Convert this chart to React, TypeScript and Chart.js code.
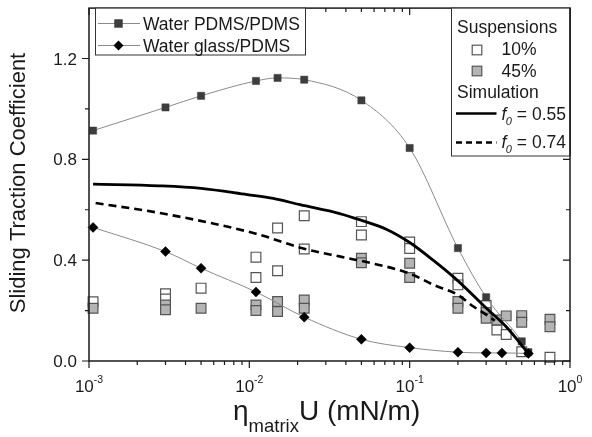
import React, { useEffect, useRef } from "react";
import { Chart, registerables } from "chart.js";

Chart.register(...registerables);

const FONT = '"Liberation Sans", Arial, sans-serif';
const INK = "#1a1a1a";

// Water PDMS/PDMS (dark squares joined by a thin curve)
const pdmsX = [0.00106, 0.003, 0.005, 0.011, 0.015, 0.022, 0.05, 0.1, 0.2, 0.3, 0.5, 0.55];
const pdmsY = [0.914, 1.006, 1.052, 1.111, 1.123, 1.116, 1.034, 0.845, 0.448, 0.253, 0.078, 0.035];

// Water glass/PDMS (black diamonds joined by a thin curve)
const glassX = [0.00106, 0.003, 0.005, 0.011, 0.022, 0.05, 0.1, 0.2, 0.3, 0.376, 0.55];
const glassY = [0.53, 0.434, 0.368, 0.274, 0.174, 0.086, 0.053, 0.035, 0.032, 0.032, 0.03];

// Suspensions, 10 %
const susp10X = [0.00106, 0.003, 0.003, 0.005, 0.011, 0.011, 0.015, 0.015, 0.022, 0.022, 0.05, 0.05, 0.1, 0.1, 0.2, 0.2, 0.3, 0.35, 0.4, 0.5, 0.75];
const susp10Y = [0.235, 0.267, 0.246, 0.289, 0.412, 0.331, 0.528, 0.358, 0.576, 0.444, 0.553, 0.5, 0.472, 0.446, 0.328, 0.302, 0.22, 0.123, 0.105, 0.037, 0.015];

// Suspensions, 45 %
const susp45X = [0.00106, 0.003, 0.003, 0.005, 0.011, 0.011, 0.015, 0.015, 0.022, 0.022, 0.05, 0.05, 0.1, 0.1, 0.2, 0.2, 0.3, 0.3, 0.35, 0.4, 0.5, 0.5, 0.75, 0.75];
const susp45Y = [0.209, 0.222, 0.203, 0.209, 0.222, 0.2, 0.236, 0.196, 0.242, 0.209, 0.408, 0.39, 0.388, 0.331, 0.236, 0.209, 0.192, 0.17, 0.163, 0.179, 0.18, 0.154, 0.166, 0.136];

// Simulation, f0 = 0.55 (solid)
const simAX = [0.00106, 0.00275, 0.005, 0.0097, 0.0141, 0.0207, 0.0366, 0.05, 0.072, 0.1, 0.14, 0.2, 0.3, 0.4, 0.55];
const simAY = [0.702, 0.695, 0.685, 0.66, 0.645, 0.62, 0.585, 0.558, 0.522, 0.47, 0.4, 0.318, 0.21, 0.136, 0.03];

// Simulation, f0 = 0.74 (dashed)
const simBX = [0.0011, 0.003, 0.011, 0.022, 0.037, 0.05, 0.1, 0.141, 0.2, 0.25, 0.29, 0.34];
const simBY = [0.627, 0.583, 0.505, 0.445, 0.414, 0.397, 0.347, 0.302, 0.262, 0.216, 0.19, 0.16];

// Axis ranges and labels
const xMin = 0.001;
const xMax = 1;
const xDecades = [-3, -2, -1, 0];
const yMin = 0;
const yMax = 1.4;
const yMajor = [0, 0.4, 0.8, 1.2];
const yMinor = [0.2, 0.6, 1.0];
const yTitle = "Sliding Traction Coefficient";

const pts = (xs: number[], ys: number[]) => xs.map((x, i) => ({ x, y: ys[i] }));

function drawSquare(ctx: CanvasRenderingContext2D, cx: number, cy: number, side: number, fill: string, stroke: string) {
  ctx.fillStyle = fill;
  ctx.strokeStyle = stroke;
  ctx.lineWidth = 1.2;
  ctx.fillRect(cx - side / 2, cy - side / 2, side, side);
  ctx.strokeRect(cx - side / 2, cy - side / 2, side, side);
}

function drawDiamond(ctx: CanvasRenderingContext2D, cx: number, cy: number, r: number) {
  ctx.fillStyle = "#000";
  ctx.beginPath();
  ctx.moveTo(cx - r, cy);
  ctx.lineTo(cx, cy - r);
  ctx.lineTo(cx + r, cy);
  ctx.lineTo(cx, cy + r);
  ctx.closePath();
  ctx.fill();
}

const frameAndText = {
  id: "frameAndText",
  afterDraw(chart: any) {
    const { ctx, chartArea: a } = chart;
    const xs = chart.scales.x;
    const ys = chart.scales.y;
    ctx.save();

    // plot frame
    ctx.strokeStyle = INK;
    ctx.lineWidth = 1.5;
    ctx.strokeRect(a.left, a.top, a.right - a.left, a.bottom - a.top);

    // x ticks: outward at the bottom, inward at the top
    ctx.lineWidth = 1.2;
    ctx.beginPath();
    xDecades.forEach((d) => {
      const major = Math.pow(10, d);
      const px = xs.getPixelForValue(major);
      ctx.moveTo(px, a.bottom);
      ctx.lineTo(px, a.bottom + 7);
      ctx.moveTo(px, a.top);
      ctx.lineTo(px, a.top + 7);
      if (d < 0) {
        for (let k = 2; k <= 9; k++) {
          const mx = xs.getPixelForValue(k * major);
          ctx.moveTo(mx, a.bottom);
          ctx.lineTo(mx, a.bottom + 4);
          ctx.moveTo(mx, a.top);
          ctx.lineTo(mx, a.top + 4);
        }
      }
    });
    // y ticks: outward on the left, inward on the right
    yMajor.forEach((v) => {
      const py = ys.getPixelForValue(v);
      ctx.moveTo(a.left - 7, py);
      ctx.lineTo(a.left, py);
      ctx.moveTo(a.right - 7, py);
      ctx.lineTo(a.right, py);
    });
    yMinor.forEach((v) => {
      const py = ys.getPixelForValue(v);
      ctx.moveTo(a.left - 4, py);
      ctx.lineTo(a.left, py);
      ctx.moveTo(a.right - 4, py);
      ctx.lineTo(a.right, py);
    });
    ctx.stroke();

    ctx.fillStyle = INK;
    // y tick labels
    ctx.font = `17px ${FONT}`;
    ctx.textAlign = "right";
    ctx.textBaseline = "alphabetic";
    yMajor.forEach((v) => {
      const py = ys.getPixelForValue(v);
      ctx.fillText(v.toFixed(1), a.left - 12, py + 6);
    });

    // x tick labels with superscript exponents
    ctx.textAlign = "left";
    xDecades.forEach((d) => {
      const px = xs.getPixelForValue(Math.pow(10, d));
      const base = "10";
      const exp = String(d);
      ctx.font = `17px ${FONT}`;
      const wb = ctx.measureText(base).width;
      ctx.font = `10.5px ${FONT}`;
      const we = ctx.measureText(exp).width;
      const x0 = px - (wb + we) / 2;
      ctx.font = `17px ${FONT}`;
      ctx.fillText(base, x0, a.bottom + 31);
      ctx.font = `10.5px ${FONT}`;
      ctx.fillText(exp, x0 + wb, a.bottom + 21.5);
    });

    // x axis title: eta_matrix U (mN/m)
    let tx = 233;
    const tb = 420;
    ctx.font = `28px ${FONT}`;
    ctx.fillText("\u03b7", tx, tb);
    tx += ctx.measureText("\u03b7").width;
    ctx.font = `18.5px ${FONT}`;
    ctx.fillText("matrix", tx, tb + 12);
    tx += ctx.measureText("matrix").width;
    ctx.font = `28px ${FONT}`;
    ctx.fillText("U (mN/m)", tx, tb);

    // y axis title
    ctx.save();
    ctx.translate(19, 183);
    ctx.rotate(-Math.PI / 2);
    ctx.font = `22px ${FONT}`;
    ctx.textAlign = "center";
    ctx.textBaseline = "middle";
    ctx.fillText(yTitle, 0, 0);
    ctx.restore();

    // left legend
    ctx.fillStyle = "#fff";
    ctx.fillRect(95, a.top, 210, 55 - a.top);
    ctx.strokeStyle = "#333";
    ctx.lineWidth = 1;
    ctx.strokeRect(95.5, a.top, 210, 55 - a.top);
    ctx.strokeStyle = "#8a8a8a";
    ctx.beginPath();
    ctx.moveTo(98, 23.5);
    ctx.lineTo(140, 23.5);
    ctx.moveTo(98, 45.5);
    ctx.lineTo(140, 45.5);
    ctx.stroke();
    drawSquare(ctx, 118.5, 23.5, 7.2, "#3d3d3d", "#3d3d3d");
    drawDiamond(ctx, 118.5, 45.5, 5);
    ctx.fillStyle = INK;
    ctx.font = `17.5px ${FONT}`;
    ctx.textAlign = "left";
    ctx.fillText("Water PDMS/PDMS", 143, 29.6);
    ctx.fillText("Water glass/PDMS", 143, 51.8);

    // right legend
    const lx = 451;
    ctx.fillStyle = "#fff";
    ctx.fillRect(lx, a.top, a.right - lx, 156 - a.top);
    ctx.strokeStyle = "#333";
    ctx.lineWidth = 1;
    ctx.strokeRect(lx + 0.5, a.top, a.right - lx - 0.5, 156 - a.top);
    ctx.strokeStyle = INK;
    ctx.lineWidth = 1.5;
    ctx.beginPath();
    ctx.moveTo(a.right, a.top);
    ctx.lineTo(a.right, 156);
    ctx.stroke();

    ctx.fillStyle = INK;
    ctx.font = `17.5px ${FONT}`;
    ctx.fillText("Suspensions", 457, 33.3);
    drawSquare(ctx, 477, 50, 9.6, "#ffffff", "#555");
    drawSquare(ctx, 477, 71, 9.6, "#b4b4b4", "#555");
    ctx.fillStyle = INK;
    ctx.fillText("10%", 501.5, 55.2);
    ctx.fillText("45%", 501.5, 76.7);
    ctx.fillText("Simulation", 457, 98.3);

    ctx.strokeStyle = "#000";
    ctx.lineWidth = 2.5;
    ctx.beginPath();
    ctx.moveTo(456, 113.5);
    ctx.lineTo(496.5, 113.5);
    ctx.stroke();
    ctx.setLineDash([6, 4]);
    ctx.beginPath();
    ctx.moveTo(456, 142.5);
    ctx.lineTo(496.5, 142.5);
    ctx.stroke();
    ctx.setLineDash([]);

    const fLabel = (value: string, baseY: number) => {
      let x = 501.5;
      ctx.fillStyle = INK;
      ctx.font = `italic 17.5px ${FONT}`;
      ctx.fillText("f", x, baseY);
      x += ctx.measureText("f").width;
      ctx.font = `italic 11px ${FONT}`;
      ctx.fillText("0", x - 0.5, baseY + 5);
      x += ctx.measureText("0").width - 0.5;
      ctx.font = `17.5px ${FONT}`;
      ctx.fillText(" = " + value, x, baseY);
    };
    fLabel("0.55", 120);
    fLabel("0.74", 148.3);

    ctx.restore();
  },
};

export default function App() {
  const ref = useRef<HTMLCanvasElement | null>(null);

  useEffect(() => {
    document.body.style.margin = "0";
    const canvas = ref.current;
    if (!canvas) return;

    const chart = new Chart(canvas, {
      type: "scatter",
      data: {
        datasets: [
          {
            label: "f0 = 0.55",
            data: pts(simAX, simAY),
            showLine: true,
            borderColor: "#000",
            borderWidth: 2.8,
            pointRadius: 0,
            cubicInterpolationMode: "monotone",
            order: 1,
          },
          {
            label: "f0 = 0.74",
            data: pts(simBX, simBY),
            showLine: true,
            borderColor: "#000",
            borderWidth: 2.6,
            borderDash: [8, 5],
            pointRadius: 0,
            cubicInterpolationMode: "monotone",
            order: 2,
          },
          {
            label: "Water glass/PDMS",
            data: pts(glassX, glassY),
            showLine: true,
            borderColor: "#8a8a8a",
            borderWidth: 1,
            pointStyle: "rectRot",
            pointRadius: 5,
            pointBackgroundColor: "#000",
            pointBorderColor: "#000",
            pointBorderWidth: 0.5,
            cubicInterpolationMode: "monotone",
            order: 3,
          },
          {
            label: "Water PDMS/PDMS",
            data: pts(pdmsX, pdmsY),
            showLine: true,
            borderColor: "#8a8a8a",
            borderWidth: 1,
            pointStyle: "rect",
            pointRadius: 5.1,
            pointBackgroundColor: "#3d3d3d",
            pointBorderColor: "#3d3d3d",
            pointBorderWidth: 0.5,
            cubicInterpolationMode: "monotone",
            order: 4,
          },
          {
            label: "45%",
            data: pts(susp45X, susp45Y),
            showLine: false,
            pointStyle: "rect",
            pointRadius: 6.9,
            pointBackgroundColor: "#b4b4b4",
            pointBorderColor: "#555",
            pointBorderWidth: 1.2,
            order: 5,
          },
          {
            label: "10%",
            data: pts(susp10X, susp10Y),
            showLine: false,
            pointStyle: "rect",
            pointRadius: 6.9,
            pointBackgroundColor: "#ffffff",
            pointBorderColor: "#555",
            pointBorderWidth: 1.2,
            order: 6,
          },
        ],
      },
      options: {
        responsive: false,
        animation: false,
        devicePixelRatio: 1,
        events: [],
        layout: { padding: { left: 89, right: 22, top: 8, bottom: 76 } },
        scales: {
          x: { type: "logarithmic", min: xMin, max: xMax, display: false },
          y: { type: "linear", min: yMin, max: yMax, display: false },
        },
        elements: { line: { borderCapStyle: "butt" } },
        datasets: { scatter: { clip: false } } as any,
        plugins: {
          legend: { display: false },
          tooltip: { enabled: false },
          title: { display: false },
        },
      },
      plugins: [frameAndText],
    });

    return () => chart.destroy();
  }, []);

  return (
    <div style={{ position: "absolute", left: 0, top: 0, width: 592, height: 437, background: "#fff" }}>
      <canvas ref={ref} width={592} height={437} style={{ display: "block" }} />
    </div>
  );
}
